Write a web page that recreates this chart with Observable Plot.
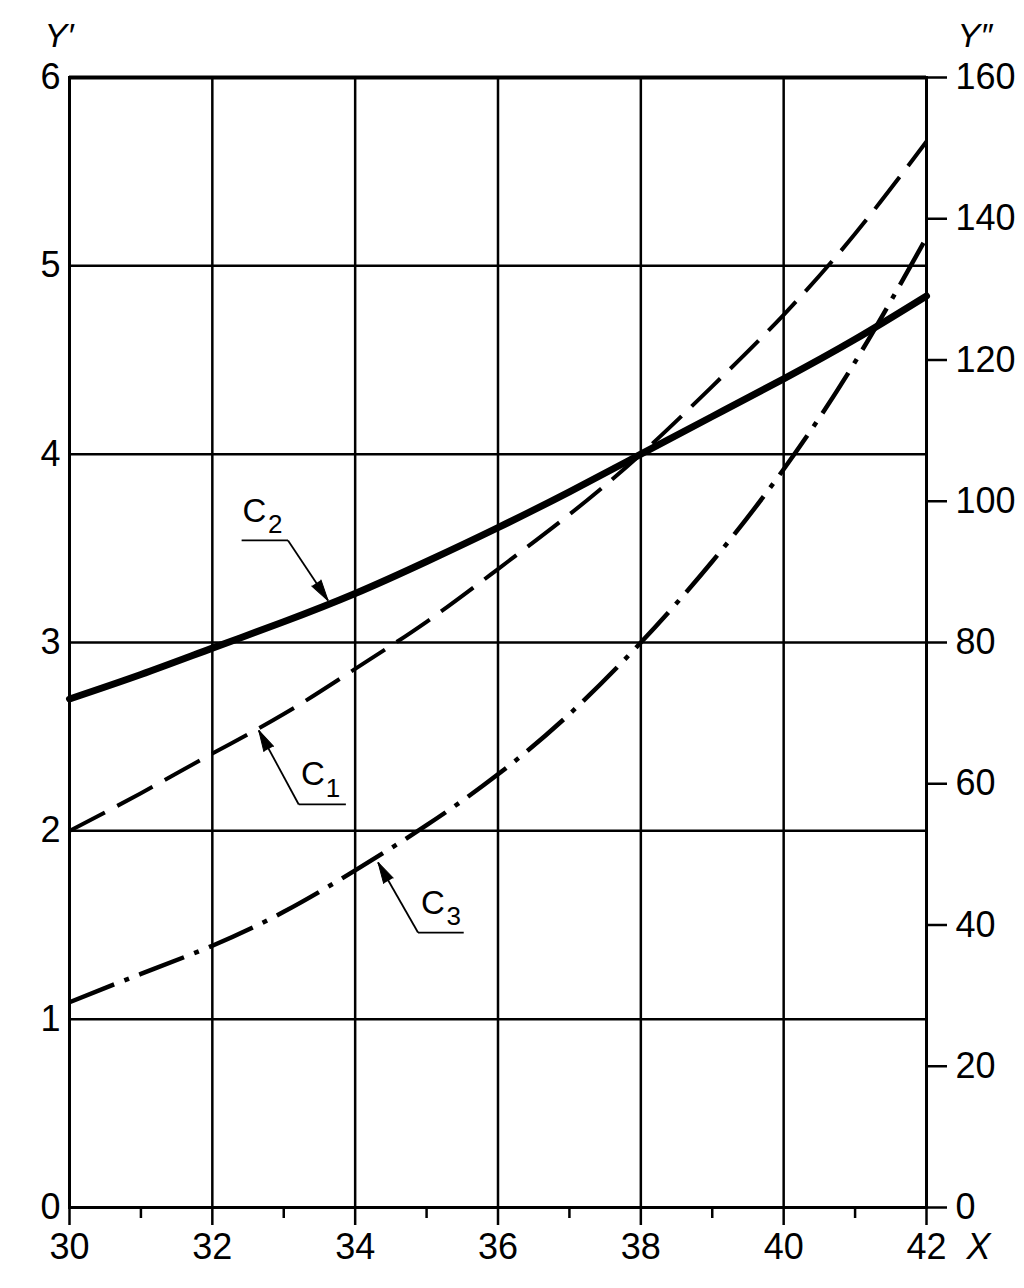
<!DOCTYPE html>
<html>
<head>
<meta charset="utf-8">
<script src="https://cdn.jsdelivr.net/npm/d3@7"></script>
<script src="https://cdn.jsdelivr.net/npm/@observablehq/plot@0.6"></script>
<style>
  html, body { margin: 0; padding: 0; background: #fff; }
  #chart svg { display: block; }
</style>
</head>
<body>
<div id="chart"></div>
<script>
// ---- data ----
const xValues = [30, 31, 32, 33, 34, 35, 36, 37, 38, 39, 40, 41, 42];
const c1Values = [2.00, 2.20, 2.41, 2.62, 2.86, 3.11, 3.39, 3.68, 4.00, 4.36, 4.74, 5.17, 5.66];
const c2Values = [2.70, 2.83, 2.97, 3.11, 3.26, 3.43, 3.61, 3.80, 4.00, 4.20, 4.40, 4.61, 4.84];
const c3Values = [1.09, 1.24, 1.39, 1.57, 1.79, 2.03, 2.30, 2.62, 3.00, 3.43, 3.92, 4.49, 5.15];

const xTicks = [30, 32, 34, 36, 38, 40, 42];
const xMinorTicks = [31, 33, 35, 37, 39, 41];
const leftTicks = [0, 1, 2, 3, 4, 5, 6];
const rightTicks = [0, 20, 40, 60, 80, 100, 120, 140, 160];
const gridX = [32, 34, 36, 38, 40];
const gridY = [1, 2, 3, 4, 5];
const leftMax = 6;
const rightMax = 160;

// annotation labels: name, subscript, text positions, leader elbow/end, arrow tip (data units)
const labelNames = ["C", "C", "C"];
const labelSubs = ["2", "1", "3"];
const labelX = [32.59, 33.41, 35.09];
const labelY = [3.696, 2.297, 1.617];
const subX = [32.88, 33.69, 35.38];
const subY = [3.627, 2.225, 1.545];
const leaderStartX = [32.41, 33.21, 34.88];
const leaderEndX = [33.06, 33.87, 35.52];
const leaderY = [3.542, 2.140, 1.460];
const elbowX = [33.06, 33.21, 34.88];
const tipX = [33.62, 32.65, 34.32];
const tipY = [3.223, 2.533, 1.832];

// ---- build ----
const W = 1024, H = 1288;
const mL = 69, mR = 98, mT = 77, mB = 81;
const pxPerX = (W - mL - mR) / 12;
const pxPerY = (H - mT - mB) / 6;

const rows = xValues.map((x, i) => ({x, c1: c1Values[i], c2: c2Values[i], c3: c3Values[i]}));
const ann = labelNames.map((n, i) => {
  const dx = (tipX[i] - elbowX[i]) * pxPerX;
  const dy = -(tipY[i] - leaderY[i]) * pxPerY;
  return {
    name: n, sub: labelSubs[i],
    lx: labelX[i], ly: labelY[i], sx: subX[i], sy: subY[i],
    hx1: leaderStartX[i], hx2: leaderEndX[i], hy: leaderY[i],
    ex: elbowX[i], tx: tipX[i], ty: tipY[i],
    rot: Math.atan2(dx, -dy) * 180 / Math.PI
  };
});

const font = "'Liberation Sans', Arial, Helvetica, sans-serif";

const chart = Plot.plot({
  width: W, height: H,
  marginLeft: mL, marginRight: mR, marginTop: mT, marginBottom: mB,
  style: {fontFamily: font, fontSize: "36px", background: "#fff", color: "#000", overflow: "visible"},
  x: {domain: [30, 42]},
  y: {domain: [0, leftMax]},
  marks: [
    Plot.ruleX(gridX, {stroke: "#000", strokeWidth: 2.5}),
    Plot.ruleY(gridY, {stroke: "#000", strokeWidth: 2.5}),
    Plot.frame({stroke: "#000", strokeWidth: 3}),
    Plot.ruleY([leftMax], {stroke: "#000", strokeWidth: 4}),
    Plot.axisX({ticks: xTicks, tickSize: 18, tickPadding: 8, label: null, strokeWidth: 2.5,
      tickFormat: d => String(d), fontSize: 36}),
    Plot.axisX({ticks: xMinorTicks, tickSize: 11, tickFormat: () => "", label: null, strokeWidth: 2.5}),
    Plot.axisY({anchor: "left", ticks: leftTicks, tickSize: 0, tickPadding: 9, label: null,
      tickFormat: d => String(d), fontSize: 36}),
    Plot.axisY({anchor: "right", ticks: rightTicks.map(v => v * leftMax / rightMax),
      tickFormat: d => String(Math.round(d * rightMax / leftMax)),
      tickSize: 20, tickPadding: 9, label: null, strokeWidth: 2.5, fontSize: 36}),
    // curves
    Plot.line(rows, {x: "x", y: "c1", curve: "natural", stroke: "#000", strokeWidth: 4,
      strokeDasharray: "40,14", strokeLinecap: "butt"}),
    Plot.line(rows, {x: "x", y: "c3", curve: "natural", stroke: "#000", strokeWidth: 4.5,
      strokeDasharray: "48,11,5,11", strokeLinecap: "butt"}),
    Plot.line(rows, {x: "x", y: "c2", curve: "natural", stroke: "#000", strokeWidth: 7}),
    // leader lines
    Plot.link(ann, {x1: "hx1", x2: "hx2", y1: "hy", y2: "hy", stroke: "#000", strokeWidth: 1.8}),
    Plot.link(ann, {x1: "ex", y1: "hy", x2: "tx", y2: "ty", stroke: "#000", strokeWidth: 1.8}),
    Plot.vector(ann, {x: "tx", y: "ty", rotate: "rot", length: 21, r: 5.5, shape: "spike",
      anchor: "end", fill: "#000", fillOpacity: 1, stroke: "#000", strokeWidth: 1}),
    Plot.text(ann, {x: "lx", y: "ly", text: "name", fontSize: 33, fill: "#000"}),
    Plot.text(ann, {x: "sx", y: "sy", text: "sub", fontSize: 26, fill: "#000"}),
    // axis titles
    Plot.text(["Y\u2032"], {frameAnchor: "top-left", textAnchor: "start", lineAnchor: "top",
      dx: -25, dy: -55, fontSize: 34, fontStyle: "italic", fill: "#000"}),
    Plot.text(["Y\u2033"], {frameAnchor: "top-right", textAnchor: "start", lineAnchor: "top",
      dx: 31, dy: -55, fontSize: 34, fontStyle: "italic", fill: "#000"}),
    Plot.text(["X"], {frameAnchor: "bottom-right", textAnchor: "start", lineAnchor: "top",
      dx: 40, dy: 26, fontSize: 36, fontStyle: "italic", fill: "#000"})
  ]
});
document.getElementById("chart").appendChild(chart);
</script>
</body>
</html>
